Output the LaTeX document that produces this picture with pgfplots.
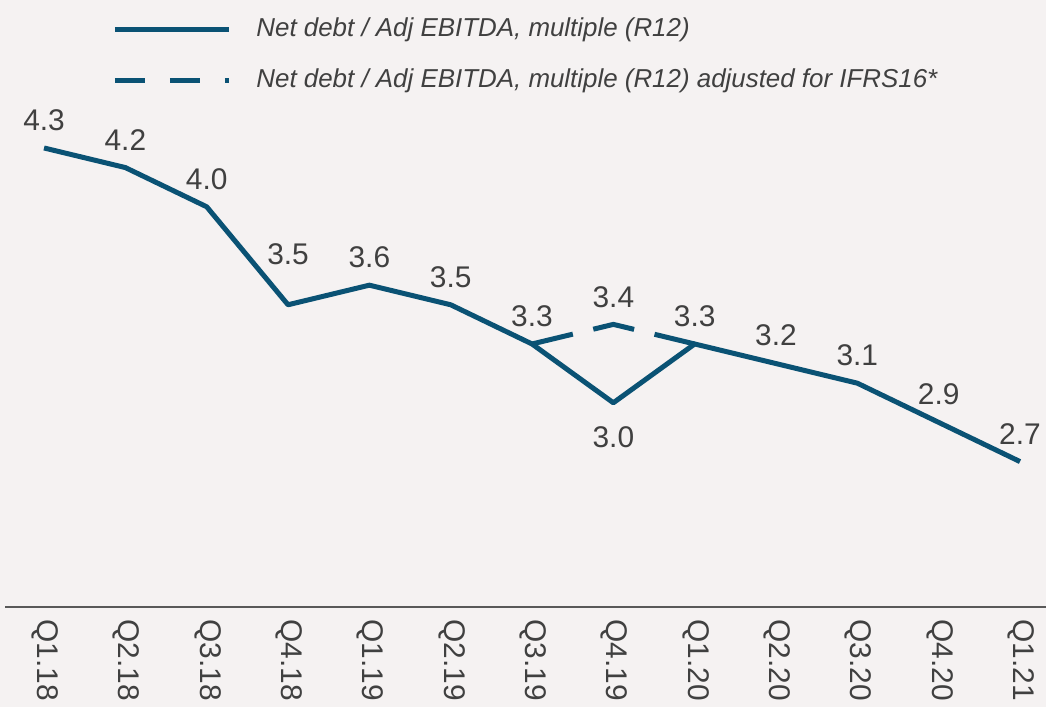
\documentclass[border=0pt]{standalone}
\usepackage{pgfplots}
\pgfplotsset{compat=1.18}
\usepackage{fontspec}
\setmainfont{Liberation Sans}
\definecolor{bgcol}{RGB}{245,242,242}
\definecolor{linecol}{RGB}{10,82,116}
\definecolor{txtcol}{RGB}{64,64,64}
\definecolor{axcol}{RGB}{89,89,89}
\pgfplotsset{lbl/.style={draw=none, mark=none, forget plot,
  nodes near coords={\pgfmathprintnumber[fixed, fixed zerofill, precision=1]{\pgfplotspointmeta}},
  every node near coord/.append style={font=\fontsize{15}{18}\selectfont, text=txtcol, anchor=center, yshift=#1}}}
\begin{document}
\begin{tikzpicture}[x=1bp,y=1bp]
\fill[bgcol] (0,0) rectangle (523,353.5);
\path[use as bounding box] (0,0) rectangle (523,353.5);
\begin{axis}[
  at={(2.5bp,50bp)}, anchor=south west,
  scale only axis, width=520.5bp, height=303.5bp,
  xmin=-0.48, xmax=12.32, ymin=1.958, ymax=5.055,
  clip=false,
  axis y line=none,
  axis x line*=bottom,
  x axis line style={draw=axcol, line width=1bp},
  xtick={0,...,12},
  xticklabels={Q1.18,Q2.18,Q3.18,Q4.18,Q1.19,Q2.19,Q3.19,Q4.19,Q1.20,Q2.20,Q3.20,Q4.20,Q1.21},
  major tick length=0pt,
  xtick style={draw=none},
  xticklabel style={rotate=-90, anchor=west, inner sep=0pt, xshift=6bp, yshift=0.5bp, font=\fontsize{15}{18}\selectfont, text=txtcol},
  /pgf/number format/assume math mode=true,
  legend cell align=left,
  legend style={at={(axis description cs:0.1028,0.9715)}, anchor=north west, draw=none, fill=none,
    inner sep=0pt, row sep=13bp, font=\fontsize{13}{15}\selectfont\itshape, text=txtcol,
    nodes={inner sep=0pt, text height=9.5bp, text depth=3bp},
    /tikz/every odd column/.append style={column sep=12.5bp}},
  legend image code/.code={\draw[#1] (0bp,0.15bp) -- (57bp,0.15bp);},
]
\addplot[linecol, line width=2.5bp, line join=round, mark=none] coordinates {
(0,4.3) (1,4.2) (2,4.0) (3,3.5) (4,3.6) (5,3.5) (6,3.3) (7,3.0) (8,3.3) (9,3.2) (10,3.1) (11,2.9) (12,2.7)};
\addlegendentry{Net debt / Adj EBITDA, multiple (R12)}
\addplot[linecol, line width=2.5bp, line join=round, mark=none, dash pattern=on 21bp off 10.5bp, forget plot] coordinates {
(6,3.3) (7,3.4) (8,3.3)};
\addlegendimage{linecol, line width=2.5bp, dash pattern=on 15bp off 12.5bp}
\addlegendentry{Net debt / Adj EBITDA, multiple (R12) adjusted for IFRS16*}
% data labels
\addplot[lbl=14bp] coordinates {
(0,4.3) (1,4.2) (2,4.0) (4,3.6) (5,3.5) (6,3.3) (8,3.3) (9,3.2) (10,3.1) (11,2.9) (12,2.7)};
\addplot[lbl=25.5bp] coordinates {(3,3.5)};
\addplot[lbl=13.5bp] coordinates {(7,3.4)};
\addplot[lbl=-17bp] coordinates {(7,3.0)};
\end{axis}
\end{tikzpicture}
\end{document}
